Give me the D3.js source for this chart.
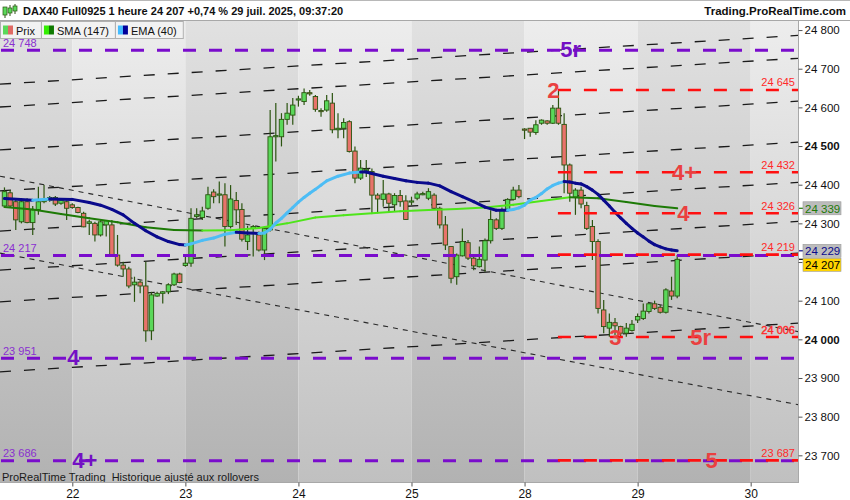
<!DOCTYPE html>
<html><head><meta charset="utf-8">
<script src="https://cdn.jsdelivr.net/npm/d3@7"></script>
<style>body{margin:0;background:#fff;} svg{display:block;font-family:Arial,"Liberation Sans",sans-serif;}</style>
</head><body><svg id="c" width="850" height="500"></svg>
<script>
// ---------- DATA ----------
const candleOpen  = [24345,24379,24356,24304,24356,24302,24336,24356,24360,24367,24352,24356,24348,24341,24326,24300,24300,24270,24296,24296,24218,24192,24182,24141,24148,24138,24022,24112,24119,24123,24141,24169,24191,24197,24318,24315,24339,24381,24373,24374,24292,24359,24336,24253,24287,24270,24231,24283,24524,24524,24569,24580,24620,24615,24638,24628,24592,24593,24611,24542,24546,24563,24487,24417,24436,24434,24373,24362,24376,24348,24372,24358,24356,24365,24376,24365,24373,24339,24296,24240,24162,24216,24250,24210,24188,24205,24255,24309,24287,24336,24362,24386,24544,24546,24535,24559,24565,24559,24598,24556,24451,24368,24386,24346,24292,24253,24076,24029,24043,24033,24016,24023,24050,24054,24072,24092,24083,24070,24125,24112];
const candleHigh  = [24393,24386,24365,24365,24365,24345,24395,24399,24371,24371,24365,24359,24352,24343,24330,24309,24304,24309,24309,24309,24270,24201,24188,24162,24153,24201,24123,24123,24125,24145,24172,24172,24218,24339,24339,24343,24395,24388,24408,24404,24399,24381,24352,24294,24296,24279,24292,24593,24611,24585,24611,24624,24630,24649,24645,24632,24598,24632,24637,24585,24572,24567,24499,24464,24464,24442,24378,24412,24379,24378,24386,24373,24369,24382,24382,24391,24378,24343,24319,24240,24222,24287,24257,24214,24240,24261,24334,24313,24341,24365,24395,24399,24546,24546,24567,24569,24567,24606,24645,24585,24455,24391,24395,24356,24309,24259,24102,24067,24055,24035,24042,24050,24067,24093,24093,24100,24089,24132,24162,24218];
const candleLow   = [24341,24340,24283,24300,24300,24270,24322,24352,24356,24345,24348,24309,24338,24326,24290,24270,24253,24266,24266,24214,24188,24162,24132,24097,24119,23994,23998,24110,24093,24117,24138,24145,24188,24188,24313,24309,24335,24352,24352,24240,24287,24296,24253,24231,24214,24227,24205,24279,24460,24499,24555,24555,24602,24606,24630,24589,24576,24589,24533,24520,24520,24483,24404,24412,24420,24326,24326,24343,24330,24330,24343,24309,24347,24360,24373,24360,24335,24287,24231,24145,24141,24214,24205,24179,24186,24175,24248,24283,24283,24330,24360,24365,24518,24524,24529,24555,24555,24557,24555,24378,24356,24322,24339,24283,24205,24067,24016,24007,24011,24007,24007,24020,24042,24050,24067,24076,24067,24067,24102,24106];
const candleClose = [24382,24345,24309,24356,24302,24335,24356,24362,24367,24350,24360,24339,24341,24328,24291,24304,24270,24304,24307,24218,24192,24182,24138,24148,24138,24022,24115,24119,24123,24141,24169,24147,24197,24313,24322,24332,24374,24369,24376,24292,24363,24335,24259,24270,24292,24231,24287,24524,24527,24569,24585,24606,24622,24638,24637,24595,24590,24617,24542,24546,24561,24486,24417,24443,24440,24373,24363,24376,24352,24372,24356,24310,24358,24376,24377,24382,24339,24296,24244,24158,24218,24253,24210,24190,24207,24255,24310,24287,24336,24362,24386,24369,24542,24536,24555,24567,24559,24598,24559,24451,24378,24386,24350,24287,24253,24080,24033,24044,24035,24016,24029,24039,24059,24073,24092,24080,24070,24128,24112,24207];

// moving averages read at bar indices
const smaIdx = [0,5,10,15,20,25,30,35,40,45,50,55,60,65,70,75,80,85,90,95,100,105,110,115,119];
const smaVal = [24342,24336,24324,24313,24303,24290,24283,24281.5,24282,24288,24300,24315,24321,24326,24331,24334.5,24337,24341,24348,24358,24367.6,24365,24355,24345,24339];
const emaIdx = [0,5,8,12,15,17,19,21,23,25,27,29,31,32,33,35,37,39,41,43,45,46,47,48,49,50,51,52,53,54,55,56,57,59,61,63,64,65,67,69,71,73,75,77,79,81,83,85,87,89,90,91,92,93,94,95,96,97,98,99,100,101,102,103,104,105,106,107,108,109,110,111,112,113,114,115,116,117,118,119];
const emaVal = [24364,24360,24363,24362,24354,24347,24336,24322,24300,24281,24265,24253,24245,24244,24247,24256,24262,24272,24277,24275,24274,24275,24285,24301,24313,24327,24341,24355,24367,24378,24388,24399,24410,24422,24430,24433,24433,24429,24422,24416,24410,24406,24404,24397,24382,24369,24356,24342,24334,24334,24336,24340,24347,24360,24367,24377,24389,24398,24404,24408,24407,24404,24402,24395,24386,24375,24360,24345,24329,24314,24300,24287,24275,24265,24254,24245,24239,24234,24231,24229];

const dayLabels = ["22","23","24","25","28","29","30"];
const dayStartIdx = [12,32,52,72,92,112,132];
const yTickValues = [23700,23800,23900,24000,24100,24200,24300,24400,24500,24600,24700,24800];
const boldTicks = [24000,24500];
const hiddenTickLabels = [24200];

// rising dashed channel lines (price at left edge / right edge of the plot)
const risingLeft  = [24660,24601,24490,24384,24280,24179,24097,23916];
const risingRight = [24786,24727,24616,24510,24406,24305,24223,24042];
// descending dotted lines
const dottedLeft  = [24422,24223];
const dottedRight = [24020,23831];

// horizontal levels
const purpleLevels = [24748,24217,23951,23686];
const purpleTags   = ["5r","","4","4+"];
const purpleTagIdx = [98.3,null,11.1,12.0];
const redLevels    = [24645,24432,24326,24219,24006,23687];
const redStartIdx  = 97.9;
const redTags      = [["2"],["4+"],["4"],[],["3","5r"],["5"]];
const redTagIdx    = [[96.0],[118.1],[119.0],[],[107.0,121.3],[124.0]];

const lastPrice = 24207, lastSMA = 24339, lastEMA = 24229;
const headerText = "DAX40 Full0925 1 heure 24 207 +0,74 % 29 juil. 2025, 09:37:20";

// ---------- LAYOUT ----------
const svg = d3.select("#c");
const P = {l:0, r:798, t:20, b:482};
const x = d3.scaleLinear().domain([-0.789, 140.37]).range([P.l, P.r]);
const y = d3.scaleLinear().domain([23631, 24826]).range([P.b, P.t]);
const fmt = v => d3.format(",")(v).replace(/,/g, " ");

const defs = svg.append("defs");
function grad(id, c0, c1){
  const gr = defs.append("linearGradient").attr("id", id).attr("x1",0).attr("y1",0).attr("x2",0).attr("y2",1);
  gr.append("stop").attr("offset","0%").attr("stop-color",c0);
  gr.append("stop").attr("offset","100%").attr("stop-color",c1);
}
grad("gLight","#ededed","#c0c0c0");
grad("gDark","#e1e1e1","#b2b2b2");
defs.append("clipPath").attr("id","clipP").append("rect").attr("x",P.l).attr("y",P.t).attr("width",P.r-P.l).attr("height",P.b-P.t);

// background bands
const bounds = [P.l, ...dayStartIdx.map(d => x(d)), P.r];
for (let k = 0; k < bounds.length-1; k++){
  svg.append("rect").attr("x",bounds[k]).attr("y",P.t).attr("width",bounds[k+1]-bounds[k]).attr("height",P.b-P.t)
    .attr("fill", k%2===0 ? "url(#gDark)" : "url(#gLight)");
}

const g = svg.append("g").attr("clip-path","url(#clipP)");
const x0 = x.domain()[0], x1 = x.domain()[1];

// rising dashed lines
risingLeft.forEach((v,k)=>{
  g.append("line").attr("x1",x(x0)).attr("y1",y(v)).attr("x2",x(x1)).attr("y2",y(risingRight[k]))
   .attr("stroke","#1a1a1a").attr("stroke-width",1.3).attr("stroke-dasharray","11,13");
});
dottedLeft.forEach((v,k)=>{
  g.append("line").attr("x1",x(x0)).attr("y1",y(v)).attr("x2",x(x1)).attr("y2",y(dottedRight[k]))
   .attr("stroke","#2a2a2a").attr("stroke-width",1.1).attr("stroke-dasharray","5,5");
});

// candles
const bw = 4.4;
const cg = g.append("g");
candleOpen.forEach((o,i)=>{
  const c = candleClose[i], h = candleHigh[i], l = candleLow[i];
  const cx = x(i);
  cg.append("line").attr("x1",cx).attr("x2",cx).attr("y1",y(h)).attr("y2",y(l))
    .attr("stroke","#2b5410").attr("stroke-width",1.2);
  const top = y(Math.max(o,c)), bot = y(Math.min(o,c));
  cg.append("rect").attr("x",cx-bw/2).attr("y",top).attr("width",bw).attr("height",Math.max(bot-top,1.2))
    .attr("fill", c>=o ? "#5ad85a" : "#e8736b").attr("stroke","#2b5410").attr("stroke-width",0.9);
});

// moving averages, coloured by direction
function maLine(idx, val, up, down, w){
  for (let k = 0; k < idx.length-1; k++){
    const seg = [[idx[k],val[k]],[idx[k+1],val[k+1]]];
    g.append("path").datum(seg)
     .attr("d", d3.line().x(d=>x(d[0])).y(d=>y(d[1])))
     .attr("fill","none").attr("stroke", val[k+1] > val[k] ? up : down)
     .attr("stroke-width", w).attr("stroke-linecap","round");
  }
}
maLine(smaIdx, smaVal, "#4ee51a", "#1d7a06", 2);
maLine(emaIdx, emaVal, "#4dbdf5", "#0a0a8c", 3);

// purple levels
purpleLevels.forEach((v,k)=>{
  g.append("line").attr("x1",P.l).attr("x2",P.r).attr("y1",y(v)).attr("y2",y(v))
   .attr("stroke","#7a0ccc").attr("stroke-width",3).attr("stroke-dasharray","13,13").attr("stroke-dashoffset",-1);
  g.append("text").attr("x",3).attr("y",y(v)-3.5).attr("font-size",11).attr("fill","#8a2fd0").text(fmt(v));
  if (purpleTags[k]) g.append("text").attr("x",x(purpleTagIdx[k])).attr("y",y(v)+7)
     .attr("font-size",22).attr("font-weight","bold").attr("fill","#7310c4").text(purpleTags[k]);
});
// red levels
redLevels.forEach((v,k)=>{
  g.append("line").attr("x1",x(redStartIdx)).attr("x2",P.r).attr("y1",y(v)).attr("y2",y(v))
   .attr("stroke","#ff1010").attr("stroke-width",2.6).attr("stroke-dasharray","13,13");
  g.append("text").attr("x",795).attr("y",y(v)-3.5).attr("text-anchor","end").attr("font-size",11)
   .attr("fill","#ff2a2a").attr("stroke", v===24006 ? "#ff2a2a" : "none").attr("stroke-width",0.4).text(fmt(v));
  redTags[k].forEach((t,j)=>{
    g.append("text").attr("x",x(redTagIdx[k][j])).attr("y",y(v)+8).attr("font-size",22).attr("font-weight","bold")
     .attr("fill","#ea4040").text(t);
  });
});

g.append("text").attr("x",2).attr("y",480.5).attr("font-size",11).attr("fill","#1a1a1a")
 .text("ProRealTime Trading\u00a0 Historique ajusté aux rollovers");

// frame
svg.append("line").attr("x1",0).attr("x2",850).attr("y1",20.5).attr("y2",20.5).attr("stroke","#a8a8a8");
svg.append("line").attr("x1",P.r+0.5).attr("x2",P.r+0.5).attr("y1",P.t).attr("y2",P.b+1).attr("stroke","#a8a8a8");
svg.append("line").attr("x1",0).attr("x2",P.r).attr("y1",P.b+0.5).attr("y2",P.b+0.5).attr("stroke","#a8a8a8");
svg.append("line").attr("x1",0).attr("x2",850).attr("y1",0.5).attr("y2",0.5).attr("stroke","#b8b8b8");

// y axis
const yAxis = d3.axisRight(y).tickValues(yTickValues).tickSize(4)
  .tickFormat(d => hiddenTickLabels.includes(d) ? "" : fmt(d));
const ya = svg.append("g").attr("transform",`translate(${P.r+0.5},0)`).call(yAxis);
ya.select(".domain").remove();
ya.selectAll("line").attr("stroke","#555");
ya.selectAll("text").attr("x",6).attr("font-size",11.5).attr("font-family","Arial,'Liberation Sans',sans-serif")
  .attr("fill","#111").attr("font-weight", d => boldTicks.includes(d) ? "bold" : "normal");
ya.selectAll("text").filter(d => hiddenTickLabels.includes(d)).remove();

// x axis
const xAxis = d3.axisBottom(x).tickValues(dayStartIdx).tickSize(4).tickFormat((d,i)=>dayLabels[i]);
const xa = svg.append("g").attr("transform",`translate(0,${P.b+0.5})`).call(xAxis);
xa.select(".domain").remove();
xa.selectAll("line").attr("stroke","#555");
xa.selectAll("text").attr("y",7).attr("font-size",12).attr("font-family","Arial,'Liberation Sans',sans-serif").attr("fill","#111");

// value boxes on axis
const boxes = [{v:lastSMA, fill:"#bcbcbc", col:"#1d7a06"},{v:lastEMA, fill:"#bcbcbc", col:"#0a0a8c"},{v:lastPrice, fill:"#ffd400", col:"#000"}];
let prevBottom = -1e9;
boxes.forEach(b=>{
  let cy = y(b.v);
  if (cy - 6.5 < prevBottom) cy = prevBottom + 6.5 + 1;
  prevBottom = cy + 6.5;
  svg.append("line").attr("x1",P.r+1).attr("x2",P.r+5).attr("y1",y(b.v)).attr("y2",y(b.v)).attr("stroke",b.col).attr("stroke-width",1.2);
  svg.append("rect").attr("x",803).attr("y",cy-6.5).attr("width",38).attr("height",13).attr("fill",b.fill).attr("stroke","#9a9a9a").attr("stroke-width",0.6);
  svg.append("text").attr("x",805).attr("y",cy+4.3).attr("font-size",11.5).attr("fill",b.col).text(fmt(b.v));
});

// header
const ic = svg.append("g");
[[5,6,12,4,10],[10,3,10,5,8],[15,2,8,3,6]].forEach(([cx,t,b,bt,bb])=>{
  ic.append("line").attr("x1",cx).attr("x2",cx).attr("y1",t+2).attr("y2",b+6).attr("stroke","#2b5410");
  ic.append("rect").attr("x",cx-2).attr("y",bt+3).attr("width",4).attr("height",bb-bt+2).attr("fill","#5ad85a").attr("stroke","#2b5410").attr("stroke-width",0.7);
});
svg.append("text").attr("x",23).attr("y",15).attr("font-size",11).attr("font-weight","bold").attr("fill","#111").text(headerText);
svg.append("text").attr("x",846).attr("y",15).attr("text-anchor","end").attr("font-size",11.5).attr("font-weight","bold").attr("fill","#111").text("Trading.ProRealTime.com");

// legend
const leg = [{t:"Prix",c:["#5ad85a","#e06a64"]},{t:"SMA (147)",c:["#33ee00","#0f7a00"]},{t:"EMA (40)",c:["#44bbff","#00009a"]}];
let lx = 0;
leg.forEach(L=>{
  const grp = svg.append("g");
  const txt = grp.append("text").attr("x",lx+16).attr("y",34.5).attr("font-size",11).attr("fill","#111").text(L.t);
  const tw = txt.node().getComputedTextLength();
  const w = tw + 22;
  grp.insert("rect","text").attr("x",lx+0.5).attr("y",21.5).attr("width",w).attr("height",17).attr("fill","#f2f2f2").attr("stroke","#b0b0b0");
  grp.insert("rect","text").attr("x",lx+3).attr("y",25.5).attr("width",5).attr("height",9).attr("fill",L.c[0]);
  grp.insert("rect","text").attr("x",lx+8).attr("y",25.5).attr("width",5).attr("height",9).attr("fill",L.c[1]);
  lx += w;
});
</script></body></html>
